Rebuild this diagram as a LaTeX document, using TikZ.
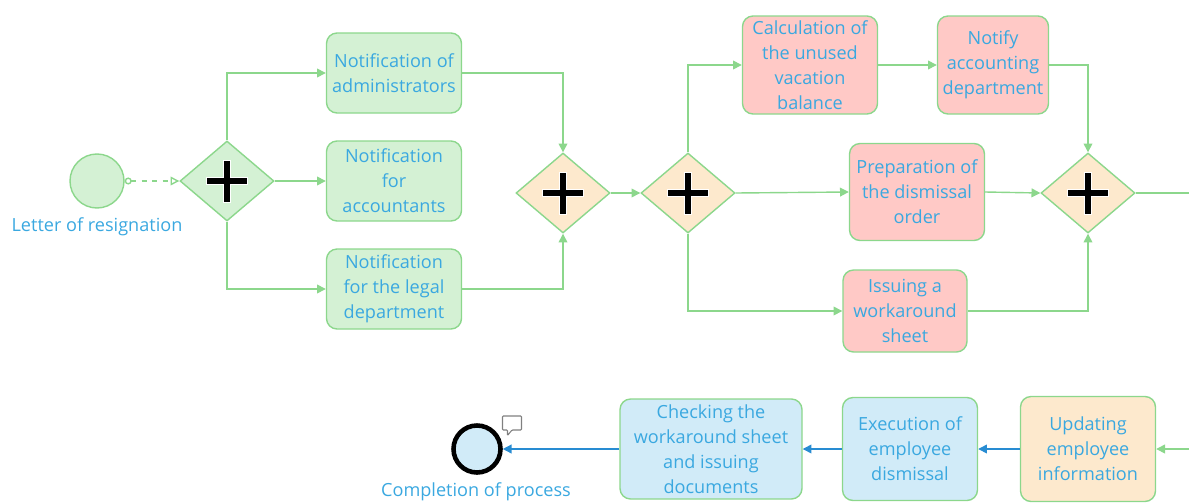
\documentclass[tikz,border=0pt]{standalone}
\usepackage{fontspec}
\setmainfont{Open Sans}
\usetikzlibrary{shapes.geometric,arrows.meta}

\definecolor{lineGreen}{RGB}{140,215,140}
\definecolor{fillGreen}{RGB}{212,241,212}
\definecolor{fillOrange}{RGB}{253,233,205}
\definecolor{fillPink}{RGB}{255,201,198}
\definecolor{fillBlue}{RGB}{209,235,248}
\definecolor{textBlue}{RGB}{58,168,224}
\definecolor{lineBlue}{RGB}{40,140,210}

\begin{document}
\begin{tikzpicture}[
	line width=0.8pt,
	every node/.style={font=\fontsize{10.3}{14.2}\selectfont, text=textBlue},
	task/.style={
		draw=lineGreen, rounded corners=6pt,
		align=center, inner sep=1pt,
		minimum width=2.7cm,
		minimum height=1.6cm
	},
	gate/.style={
		draw=lineGreen, diamond, inner sep=0pt,
		minimum width=1.88cm,
		minimum height=1.6cm,
		path picture={
			\draw[white, line width=4.2pt]
				([xshift=-0.42cm]path picture bounding box.center) -- ([xshift=0.42cm]path picture bounding box.center)
				([yshift=-0.43cm]path picture bounding box.center) -- ([yshift=0.43cm]path picture bounding box.center);
			\draw[black, line width=3pt]
				([xshift=-0.4cm]path picture bounding box.center) -- ([xshift=0.4cm]path picture bounding box.center)
				([yshift=-0.41cm]path picture bounding box.center) -- ([yshift=0.41cm]path picture bounding box.center);
		}
	},
	flow/.style={draw=lineGreen, -{Triangle[length=5pt,width=5pt]}},
	flowblue/.style={draw=lineBlue, -{Triangle[length=5pt,width=5pt]}},
	evlabel/.style={inner sep=0pt}
	]
	\useasboundingbox (0,0) rectangle (23.78,10.06);
	
	% start and first fork
	\node[circle, draw=lineGreen, fill=fillGreen, minimum size=1.08cm] (start) at (1.94,6.44) {};
	\node[evlabel] (startlbl) at (1.94,5.52) {Letter of resignation};
	\node[gate, fill=fillGreen] (gw1) at (4.54,6.44) {};
	
	\node[task, fill=fillGreen] (admin) at (7.88,8.60) {Notification of\\administrators};
	\node[task, fill=fillGreen] (acct)  at (7.88,6.44) {Notification\\for\\accountants};
	\node[task, fill=fillGreen] (legal) at (7.88,4.28) {Notification\\for the legal\\department};
	
	\node[gate, fill=fillOrange] (gw2) at (11.26,6.20) {};
	\node[gate, fill=fillOrange] (gw3) at (13.76,6.20) {};
	
	\node[task, fill=fillPink, minimum height=1.96cm] (vac)    at (16.20,8.76) {Calculation of\\the unused\\vacation\\balance};
	\node[task, fill=fillPink, minimum height=1.96cm, minimum width=2.22cm] (notify) at (19.86,8.76) {Notify\\accounting\\department};
	\node[task, fill=fillPink, minimum height=1.94cm] (order)  at (18.34,6.22) {Preparation of\\the dismissal\\order};
	\node[task, fill=fillPink, minimum height=1.64cm, minimum width=2.48cm] (sheet)  at (18.10,3.84) {Issuing a\\workaround\\sheet};
	
	\node[gate, fill=fillOrange] (gw4) at (21.76,6.20) {};
	\coordinate (outR) at (23.78,6.20);
	\coordinate (inR)  at (23.78,1.08);
	
	% bottom row
	\node[task, fill=fillOrange, minimum height=2.1cm]  (update) at (21.76,1.08) {Updating\\employee\\information};
	\node[task, fill=fillBlue, minimum height=2.06cm]   (exec)   at (18.20,1.08) {Execution of\\employee\\dismissal};
	\node[task, fill=fillBlue, minimum height=2.0cm, minimum width=3.64cm] (check) at (14.22,1.08) {Checking the\\workaround sheet\\and issuing\\documents};
	\node[circle, draw=black, line width=2.6pt, fill=fillBlue, minimum size=0.94cm] (finish) at (9.54,1.08) {};
	\node[evlabel, anchor=south] (finishlbl) at (9.52,0.02) {Completion of process};
	\draw[gray, line width=0.6pt, rounded corners=0.5pt] (10.05,1.46) -- (10.05,1.74) -- (10.43,1.74) -- (10.43,1.46) -- (10.24,1.46) -- (10.15,1.35) -- (10.15,1.46) -- cycle;
	
	\draw[lineGreen, dashed, {Circle[open,length=4pt,width=4pt]}-{Triangle[open,length=5pt,width=5pt]}] (start.east) -- (gw1.west);
	
	\draw[flow] (gw1.north) |- (admin.west);
	\draw[flow] (gw1.east)  -- (acct.west);
	\draw[flow] (gw1.south) |- (legal.west);
	\draw[flow] (admin.east) -| (gw2.north);
	\draw[flow] (legal.east) -| (gw2.south);
	\draw[flow] (gw2.east) -- (gw3.west);
	
	\draw[flow] (gw3.north) |- (vac.west);
	\draw[flow] (vac.east)  -- (notify.west);
	\draw[flow] (notify.east) -| (gw4.north);
	\draw[flow] (gw3.east)  -- (order.west);
	\draw[flow] (order.east) -- (gw4.west);
	\draw[flow] (gw3.south) |- (sheet.west);
	\draw[flow] (sheet.east) -| (gw4.south);
	\draw[lineGreen] (gw4.east) -- (outR);
	
	\draw[flow] (inR) -- (update.east);
	\draw[flowblue] (update.west) -- (exec.east);
	\draw[flowblue] (exec.west) -- (check.east);
	\draw[flowblue] (check.west) -- (finish.east);
	
\end{tikzpicture}
\end{document}
